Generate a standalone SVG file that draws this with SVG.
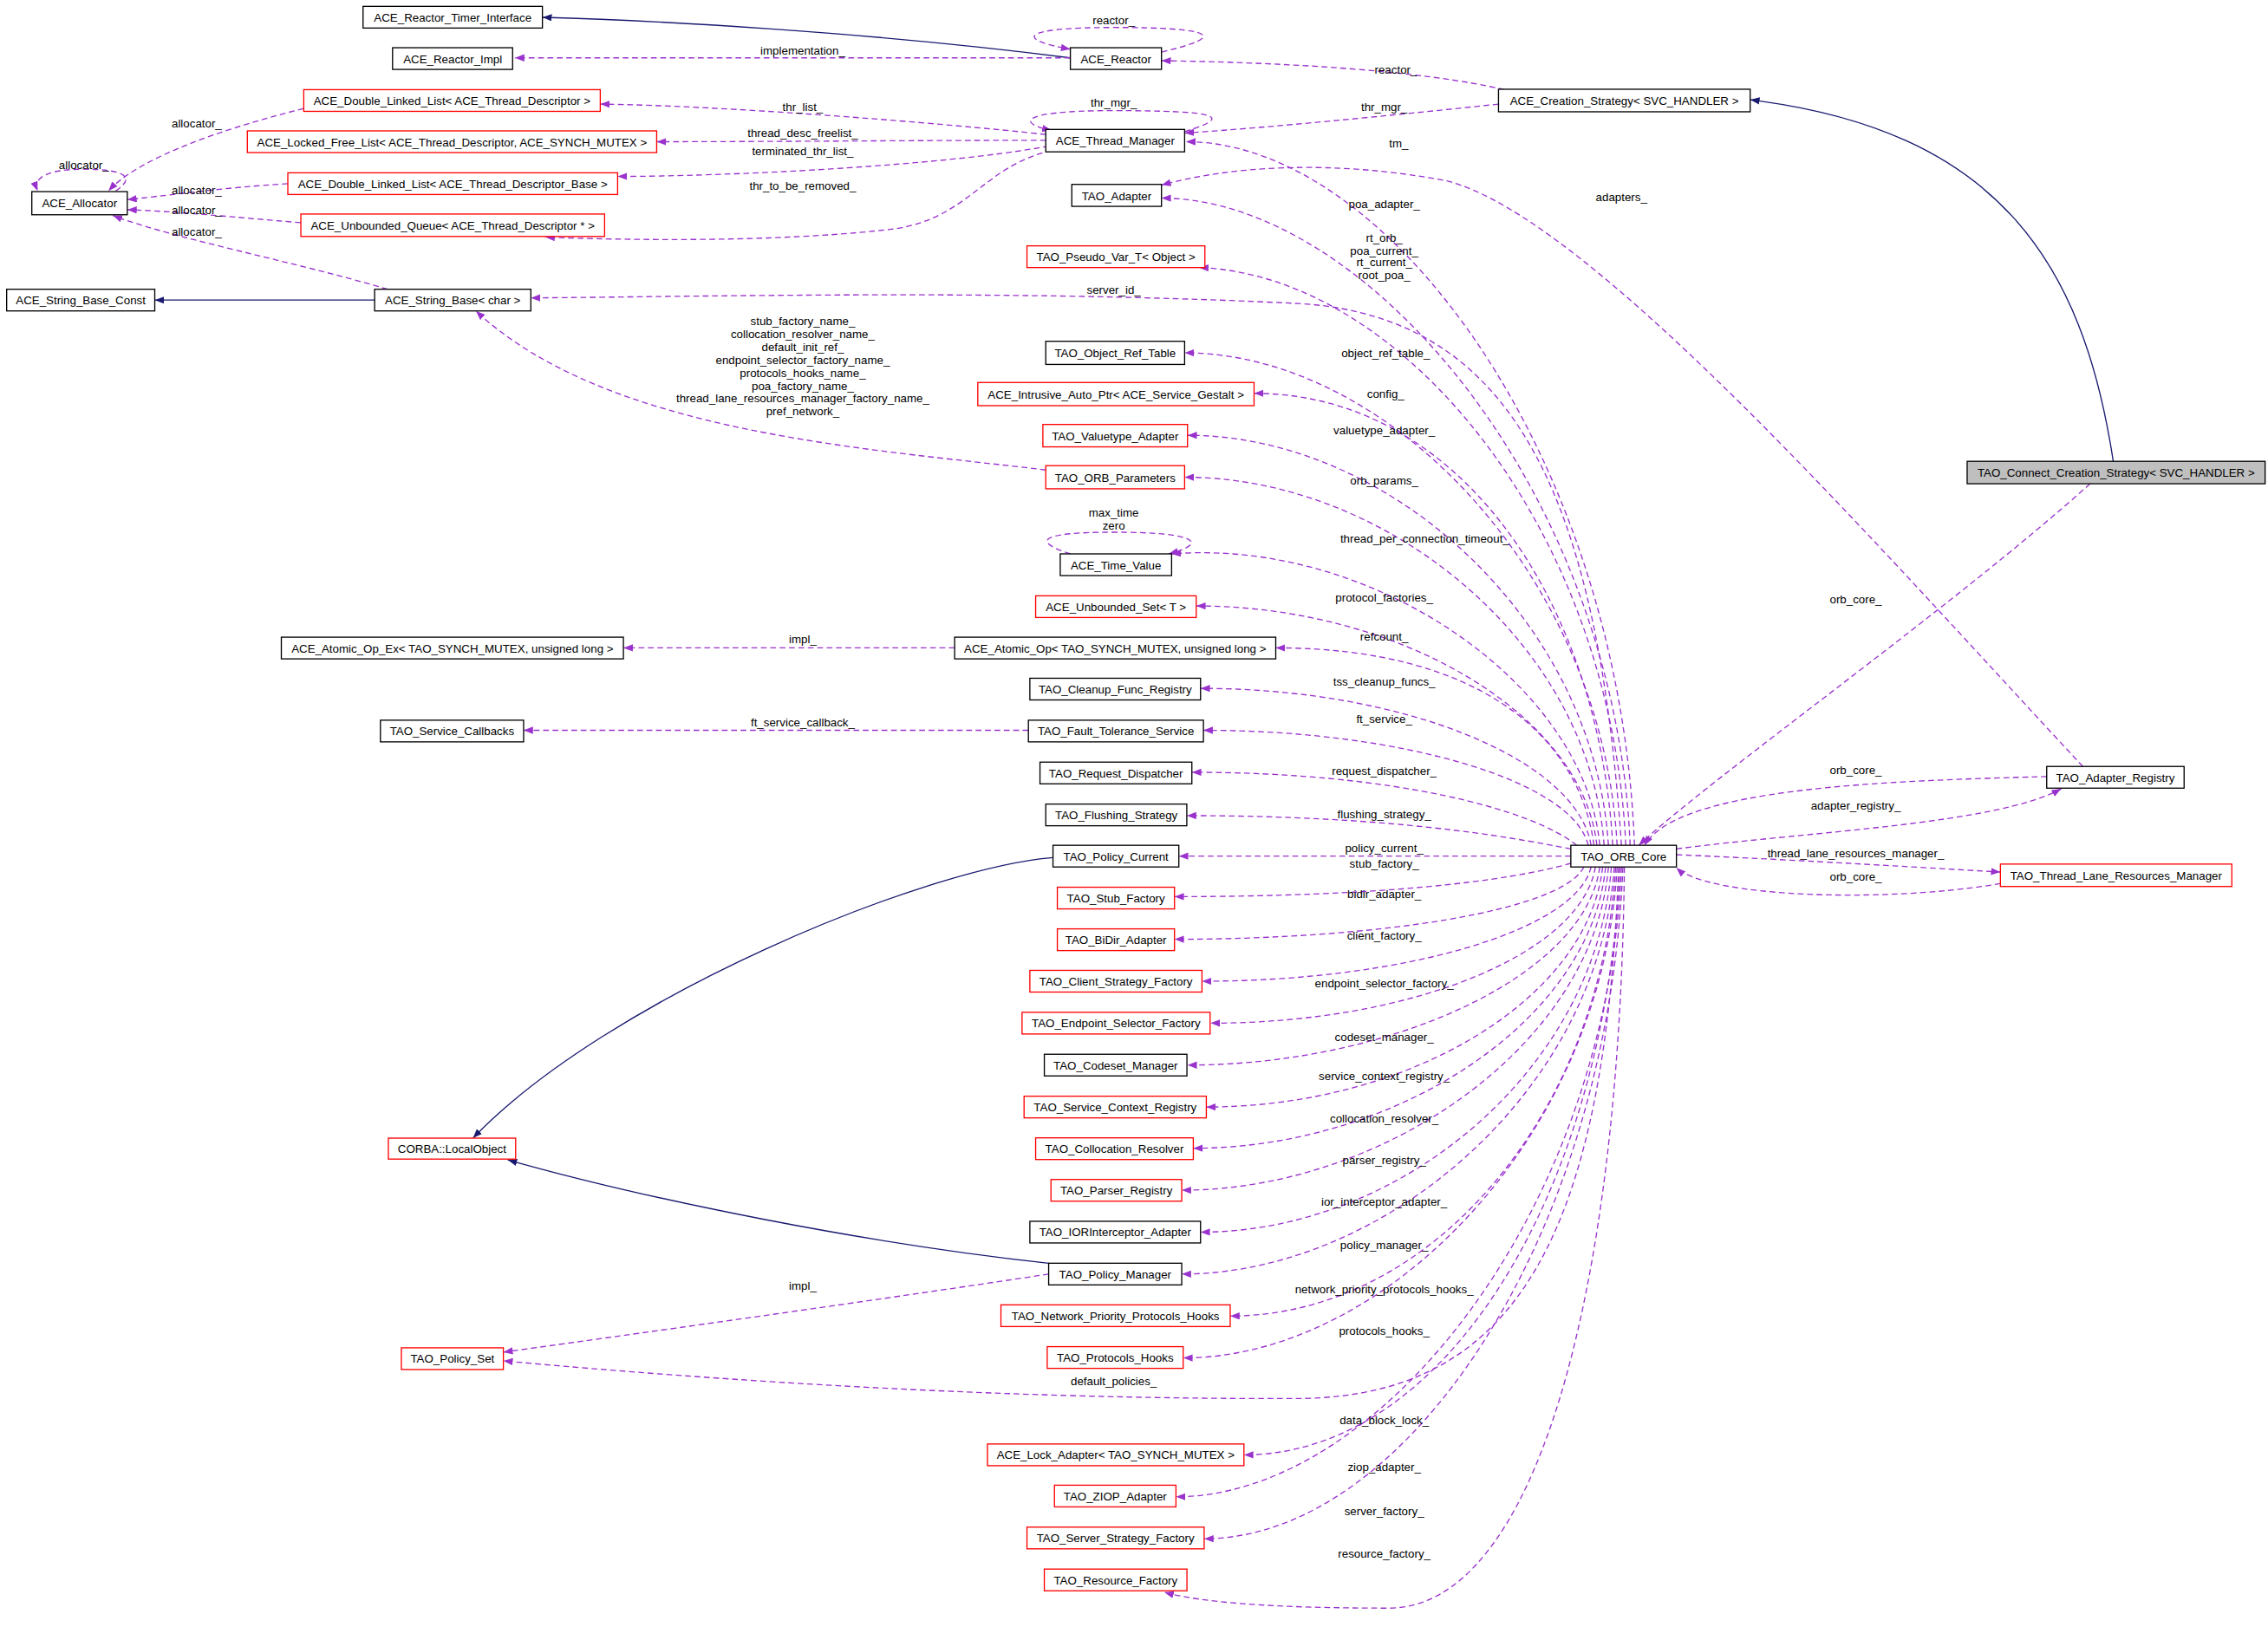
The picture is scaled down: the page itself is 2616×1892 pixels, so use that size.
<svg xmlns="http://www.w3.org/2000/svg" width="2616" height="1892" viewBox="0 0 2616 1892">
<style>
text{font-family:"Liberation Sans",Arial,sans-serif;font-size:8px;fill:#000;text-anchor:middle}
.b{fill:#fff;stroke:#000;stroke-width:0.8}
.r{fill:#fff;stroke:#ff0000;stroke-width:0.8}
.g{fill:#bfbfbf;stroke:#000;stroke-width:0.8}
.p{fill:none;stroke:#9a32cd;stroke-width:0.8;stroke-dasharray:4,2.5;marker-end:url(#ap)}
.n{fill:none;stroke:#191970;stroke-width:0.8;marker-end:url(#an)}
</style>
<defs>
<marker id="ap" markerUnits="userSpaceOnUse" markerWidth="7" markerHeight="6" refX="6.5" refY="2.5" orient="auto"><path d="M0,0 L6.5,2.5 L0,5 z" fill="#9a32cd"/></marker>
<marker id="an" markerUnits="userSpaceOnUse" markerWidth="7" markerHeight="6" refX="6.5" refY="2.5" orient="auto"><path d="M0,0 L6.5,2.5 L0,5 z" fill="#191970"/></marker>
</defs>
<rect width="2616" height="1892" fill="#fff"/>
<g transform="scale(1.66837)">
<g id="connectors">
<path class="n" d="M740,40 C600,22 450,14 375,12"/>
<path class="p" d="M740,40 L356,40"/>
<path class="p" d="M803,36 C850,25 840,19 770,19 C700,19 705,28 740,34"/>
<path class="p" d="M819,91 C855,80 840,76.5 770,76.5 C700,76.5 705,86 727,90"/>
<path class="p" d="M723,93 C650,85 500,73 415,72"/>
<path class="p" d="M723,97 C650,97 520,98 454,98"/>
<path class="p" d="M725,101 C650,115 500,122 427,122"/>
<path class="p" d="M727,104 C680,115 670,150 620,158 C540,168 430,166 377,164"/>
<path class="p" d="M210,75 C150,90 95,110 75,132"/>
<path class="p" d="M80,132 C95,122 85,117 58,117 C35,117 22,122 26,132"/>
<path class="p" d="M199,127 C150,130 110,136 88,138"/>
<path class="p" d="M208,154 C160,150 120,146 88,145"/>
<path class="p" d="M268,200 C200,180 120,165 78,149"/>
<path class="n" d="M259,207.5 L107,207.5"/>
<path class="p" d="M723,325 C600,310 420,300 329,215"/>
<path class="p" d="M660,448 L431,448"/>
<path class="p" d="M711,505 L362,505"/>
<path class="n" d="M728,593 C640,600 420,690 327,787"/>
<path class="n" d="M725,873.5 C600,860 450,830 351,802"/>
<path class="p" d="M725,881 C600,900 420,925 348,935"/>
<path class="p" d="M1040,62 C980,48 880,43 803,42"/>
<path class="p" d="M1036,72 C960,80 880,88 819,92"/>
<path class="n" d="M1461,319 C1440,180 1380,90 1210,69"/>
<path class="p" d="M1445,334.5 C1350,420 1180,540 1133,584.5"/>
<path class="p" d="M1415,537 C1300,540 1160,545 1137,584.5"/>
<path class="p" d="M1159,587 C1250,575 1380,570 1425,545.5"/>
<path class="p" d="M1159,591 C1250,595 1330,600 1383,603"/>
<path class="p" d="M1383,611 C1300,625 1180,620 1159,600"/>
<path class="p" d="M1440,530 C1300,380 1100,150 1000,125 C920,110 850,115 803,128"/>
<path class="p" d="M1130,584.5 C1120,317 960,98 820,98"/>
<path class="p" d="M1127,584.5 C1117,338 943,137 803,137"/>
<path class="p" d="M1124,584.5 C1114,365 969,190 829,185"/>
<path class="p" d="M1121,584.5 C1105,350 1050,220 900,210 C700,200 500,205 367,206"/>
<path class="p" d="M1118,584.5 C1108,397 959,244 819,244"/>
<path class="p" d="M1115,584.5 C1105,413 1007,272 867,272"/>
<path class="p" d="M1112,584.5 C1102,429 961,301 821,301"/>
<path class="p" d="M1109,584.5 C1099,445 959,330 819,330"/>
<path class="p" d="M1106,584.5 C1096,474 950,372 810,383"/>
<path class="p" d="M1104,584.5 C1094,494 967,419 827,419"/>
<path class="p" d="M1102,584.5 C1092,509 1022,448 882,448"/>
<path class="p" d="M1100,584.5 C1090,525 970,476 830,476"/>
<path class="p" d="M1098,584.5 C1088,541 972,505 832,505"/>
<path class="p" d="M1090,584.5 C1060,560 964,534 824,534"/>
<path class="p" d="M1086,587 C1040,578 960,564 820.5,564"/>
<path class="p" d="M1086,592 L815,592"/>
<path class="p" d="M1086,597 C1040,610 952,620 812,620"/>
<path class="p" d="M1095,599.5 C1080,630 952,649.5 812,649.5"/>
<path class="p" d="M1100,599.5 C1090,643 971,678.5 831,678.5"/>
<path class="p" d="M1103,599.5 C1093,659 977,707.5 837,707.5"/>
<path class="p" d="M1106,599.5 C1096,675 961,736.5 821,736.5"/>
<path class="p" d="M1108,599.5 C1098,691 974,765.5 834,765.5"/>
<path class="p" d="M1110,599.5 C1100,706 965,794 825,794"/>
<path class="p" d="M1112,599.5 C1102,722 957,823 817,823"/>
<path class="p" d="M1114,599.5 C1104,738 970,852 830,852"/>
<path class="p" d="M1116,599.5 C1106,754 957,881 817,881"/>
<path class="p" d="M1117,599.5 C1107,770 990,910 850.5,910"/>
<path class="p" d="M1118,599.5 C1108,786 958,939 818,939"/>
<path class="p" d="M1119,599.5 C1110,850 1050,965 900,967 C700,968 500,955 348,941"/>
<path class="p" d="M1120,599.5 C1110,823 1000,1006 860,1006"/>
<path class="p" d="M1121,599.5 C1111,839 953,1035 813,1035"/>
<path class="p" d="M1122,599.5 C1112,855 972,1064 832.5,1064"/>
<path class="p" d="M1123,599.5 C1120,900 1060,1112 960,1112 C880,1112 830,1108 805,1101"/>
<text x="770" y="17">reactor_</text>
<text x="555" y="38">implementation_</text>
<text x="770" y="74">thr_mgr_</text>
<text x="555" y="77">thr_list_</text>
<text x="555" y="95">thread_desc_freelist_</text>
<text x="555" y="107">terminated_thr_list_</text>
<text x="555" y="131">thr_to_be_removed_</text>
<text x="136" y="88">allocator_</text>
<text x="58" y="117">allocator_</text>
<text x="136" y="134">allocator_</text>
<text x="136" y="148">allocator_</text>
<text x="136" y="163">allocator_</text>
<text x="555" y="225">stub_factory_name_</text>
<text x="555" y="234">collocation_resolver_name_</text>
<text x="555" y="243">default_init_ref_</text>
<text x="555" y="252">endpoint_selector_factory_name_</text>
<text x="555" y="261">protocols_hooks_name_</text>
<text x="555" y="270">poa_factory_name_</text>
<text x="555" y="278">thread_lane_resources_manager_factory_name_</text>
<text x="555" y="287">pref_network_</text>
<text x="555" y="445">impl_</text>
<text x="555" y="502">ft_service_callback_</text>
<text x="555" y="892">impl_</text>
<text x="965" y="51">reactor_</text>
<text x="957" y="77">thr_mgr_</text>
<text x="1283" y="417">orb_core_</text>
<text x="1283" y="535">orb_core_</text>
<text x="1283" y="560">adapter_registry_</text>
<text x="1283" y="593">thread_lane_resources_manager_</text>
<text x="1283" y="609">orb_core_</text>
<text x="967" y="102">tm_</text>
<text x="1121" y="139">adapters_</text>
<text x="957" y="144">poa_adapter_</text>
<text x="957" y="167">rt_orb_</text>
<text x="957" y="176">poa_current_</text>
<text x="957" y="184">rt_current_</text>
<text x="957" y="193">root_poa_</text>
<text x="770" y="203">server_id_</text>
<text x="958" y="247">object_ref_table_</text>
<text x="958" y="275">config_</text>
<text x="957" y="300">valuetype_adapter_</text>
<text x="957" y="335">orb_params_</text>
<text x="770" y="357">max_time</text>
<text x="770" y="366">zero</text>
<text x="985" y="375">thread_per_connection_timeout_</text>
<text x="957" y="416">protocol_factories_</text>
<text x="957" y="443">refcount_</text>
<text x="957" y="474">tss_cleanup_funcs_</text>
<text x="957" y="500">ft_service_</text>
<text x="957" y="536">request_dispatcher_</text>
<text x="957" y="566">flushing_strategy_</text>
<text x="957" y="589">policy_current_</text>
<text x="957" y="600">stub_factory_</text>
<text x="957" y="621">bidir_adapter_</text>
<text x="957" y="650">client_factory_</text>
<text x="957" y="683">endpoint_selector_factory_</text>
<text x="957" y="720">codeset_manager_</text>
<text x="957" y="747">service_context_registry_</text>
<text x="957" y="776">collocation_resolver_</text>
<text x="957" y="805">parser_registry_</text>
<text x="957" y="834">ior_interceptor_adapter_</text>
<text x="957" y="864">policy_manager_</text>
<text x="957" y="894">network_priority_protocols_hooks_</text>
<text x="957" y="923">protocols_hooks_</text>
<text x="770" y="958">default_policies_</text>
<text x="957" y="985">data_block_lock_</text>
<text x="957" y="1017">ziop_adapter_</text>
<text x="957" y="1048">server_factory_</text>
<text x="957" y="1077">resource_factory_</text>
<path class="p" d="M740,383 C715,375 715,368 770,368 C830,368 835,376 808,383" style="marker-end:url(#ap)"/>
</g>
<g id="n1"><rect class="b" x="251" y="4.4" width="124" height="15"/><text x="313" y="15">ACE_Reactor_Timer_Interface</text></g>
<g id="n2"><rect class="b" x="271.4" y="33" width="83" height="15"/><text x="313" y="43.5">ACE_Reactor_Impl</text></g>
<g id="n3"><rect class="b" x="740" y="33" width="63" height="15"/><text x="771.5" y="43.5">ACE_Reactor</text></g>
<g id="n4"><rect class="r" x="210" y="62" width="205" height="15"/><text x="312.5" y="72.5">ACE_Double_Linked_List&lt; ACE_Thread_Descriptor &gt;</text></g>
<g id="n5"><rect class="r" x="171" y="90.5" width="283" height="15"/><text x="312.5" y="101">ACE_Locked_Free_List&lt; ACE_Thread_Descriptor, ACE_SYNCH_MUTEX &gt;</text></g>
<g id="n6"><rect class="r" x="199" y="119.5" width="228" height="15"/><text x="313" y="130">ACE_Double_Linked_List&lt; ACE_Thread_Descriptor_Base &gt;</text></g>
<g id="n7"><rect class="r" x="208" y="148" width="210" height="15.5"/><text x="313" y="158.8">ACE_Unbounded_Queue&lt; ACE_Thread_Descriptor * &gt;</text></g>
<g id="n8"><rect class="b" x="22" y="132.5" width="66" height="16"/><text x="55" y="143.5">ACE_Allocator</text></g>
<g id="n9"><rect class="b" x="4.6" y="200" width="102.4" height="15"/><text x="55.8" y="210.5">ACE_String_Base_Const</text></g>
<g id="n10"><rect class="b" x="259" y="200" width="108" height="15"/><text x="313" y="210.5">ACE_String_Base&lt; char &gt;</text></g>
<g id="n11"><rect class="b" x="1036" y="61.7" width="174" height="15.6"/><text x="1123" y="72.5">ACE_Creation_Strategy&lt; SVC_HANDLER &gt;</text></g>
<g id="n12"><rect class="b" x="723" y="89.5" width="96" height="15.5"/><text x="771" y="100.3">ACE_Thread_Manager</text></g>
<g id="n13"><rect class="b" x="741" y="127.5" width="62" height="15.2"/><text x="772" y="138.2">TAO_Adapter</text></g>
<g id="n14"><rect class="r" x="710" y="170" width="123" height="15"/><text x="771.5" y="180.5">TAO_Pseudo_Var_T&lt; Object &gt;</text></g>
<g id="n15"><rect class="b" x="723" y="236" width="96" height="16"/><text x="771" y="247">TAO_Object_Ref_Table</text></g>
<g id="n16"><rect class="r" x="676" y="264.5" width="191" height="16"/><text x="771.5" y="275.5">ACE_Intrusive_Auto_Ptr&lt; ACE_Service_Gestalt &gt;</text></g>
<g id="n17"><rect class="r" x="721" y="293.5" width="100" height="15.5"/><text x="771" y="304.3">TAO_Valuetype_Adapter</text></g>
<g id="n18"><rect class="r" x="723" y="322" width="96" height="16"/><text x="771" y="333">TAO_ORB_Parameters</text></g>
<g id="n19"><rect class="g" x="1360" y="319" width="206" height="15.5"/><text x="1463" y="329.8">TAO_Connect_Creation_Strategy&lt; SVC_HANDLER &gt;</text></g>
<g id="n20"><rect class="b" x="733" y="383" width="77" height="15"/><text x="771.5" y="393.5">ACE_Time_Value</text></g>
<g id="n21"><rect class="r" x="716" y="412" width="111" height="15"/><text x="771.5" y="422.5">ACE_Unbounded_Set&lt; T &gt;</text></g>
<g id="n22"><rect class="b" x="194.5" y="440.6" width="236.5" height="15"/><text x="312.8" y="451.1">ACE_Atomic_Op_Ex&lt; TAO_SYNCH_MUTEX, unsigned long &gt;</text></g>
<g id="n23"><rect class="b" x="660" y="440.6" width="222" height="15"/><text x="771" y="451.1">ACE_Atomic_Op&lt; TAO_SYNCH_MUTEX, unsigned long &gt;</text></g>
<g id="n24"><rect class="b" x="712" y="469" width="118" height="15"/><text x="771" y="479.5">TAO_Cleanup_Func_Registry</text></g>
<g id="n25"><rect class="b" x="263" y="498" width="99" height="15"/><text x="312.5" y="508.5">TAO_Service_Callbacks</text></g>
<g id="n26"><rect class="b" x="711" y="498" width="121" height="15"/><text x="771.5" y="508.5">TAO_Fault_Tolerance_Service</text></g>
<g id="n27"><rect class="b" x="719" y="527" width="105" height="15"/><text x="771.5" y="537.5">TAO_Request_Dispatcher</text></g>
<g id="n28"><rect class="b" x="723" y="556" width="97.5" height="15"/><text x="771.8" y="566.5">TAO_Flushing_Strategy</text></g>
<g id="n29"><rect class="b" x="728" y="584.5" width="87" height="15"/><text x="771.5" y="595">TAO_Policy_Current</text></g>
<g id="n30"><rect class="r" x="731" y="613.5" width="81" height="15"/><text x="771.5" y="624">TAO_Stub_Factory</text></g>
<g id="n31"><rect class="b" x="1086" y="584.5" width="73" height="15"/><text x="1122.5" y="595">TAO_ORB_Core</text></g>
<g id="n32"><rect class="b" x="1415" y="530" width="95" height="15"/><text x="1462.5" y="540.5">TAO_Adapter_Registry</text></g>
<g id="n33"><rect class="r" x="1383" y="597.5" width="160" height="15.5"/><text x="1463" y="608.3">TAO_Thread_Lane_Resources_Manager</text></g>
<g id="n34"><rect class="r" x="731" y="642.3" width="81" height="15"/><text x="771.5" y="652.8">TAO_BiDir_Adapter</text></g>
<g id="n35"><rect class="r" x="712" y="671" width="119" height="15"/><text x="771.5" y="681.5">TAO_Client_Strategy_Factory</text></g>
<g id="n36"><rect class="r" x="706.6" y="700" width="130" height="15"/><text x="771.6" y="710.5">TAO_Endpoint_Selector_Factory</text></g>
<g id="n37"><rect class="b" x="722" y="729" width="98.6" height="15"/><text x="771.3" y="739.5">TAO_Codeset_Manager</text></g>
<g id="n38"><rect class="r" x="708" y="758" width="126" height="15"/><text x="771" y="768.5">TAO_Service_Context_Registry</text></g>
<g id="n39"><rect class="r" x="716" y="786.8" width="109" height="15"/><text x="770.5" y="797.3">TAO_Collocation_Resolver</text></g>
<g id="n40"><rect class="r" x="726.6" y="815.6" width="90.4" height="15"/><text x="771.8" y="826.1">TAO_Parser_Registry</text></g>
<g id="n41"><rect class="b" x="712" y="844.5" width="118" height="15"/><text x="771" y="855">TAO_IORInterceptor_Adapter</text></g>
<g id="n42"><rect class="b" x="725" y="873.5" width="92" height="15"/><text x="771" y="884">TAO_Policy_Manager</text></g>
<g id="n43"><rect class="r" x="692" y="902.3" width="158.5" height="15"/><text x="771.2" y="912.8">TAO_Network_Priority_Protocols_Hooks</text></g>
<g id="n44"><rect class="r" x="724" y="931.2" width="94" height="15"/><text x="771" y="941.7">TAO_Protocols_Hooks</text></g>
<g id="n45"><rect class="r" x="268.5" y="787" width="88" height="14.5"/><text x="312.5" y="797.3">CORBA::LocalObject</text></g>
<g id="n46"><rect class="r" x="277.5" y="932" width="70.5" height="15"/><text x="312.8" y="942.5">TAO_Policy_Set</text></g>
<g id="n47"><rect class="r" x="682.7" y="998.5" width="177.3" height="15"/><text x="771.3" y="1009">ACE_Lock_Adapter&lt; TAO_SYNCH_MUTEX &gt;</text></g>
<g id="n48"><rect class="r" x="729" y="1027" width="84" height="15"/><text x="771" y="1037.5">TAO_ZIOP_Adapter</text></g>
<g id="n49"><rect class="r" x="710" y="1056" width="122.5" height="15"/><text x="771.2" y="1066.5">TAO_Server_Strategy_Factory</text></g>
<g id="n50"><rect class="r" x="722" y="1085" width="98.6" height="15"/><text x="771.3" y="1095.5">TAO_Resource_Factory</text></g>
</g>
</svg>
